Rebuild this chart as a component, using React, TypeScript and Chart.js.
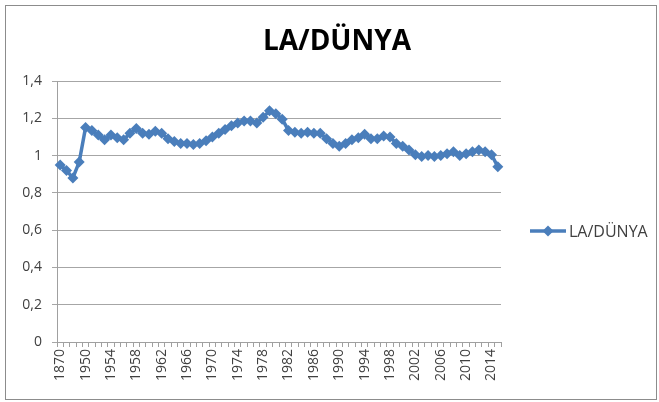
import React, { useEffect, useRef } from "react";
import { Chart, registerables } from "chart.js";

Chart.register(...registerables);

const TITLE = "LA/DÜNYA";
const SERIES_NAME = "LA/DÜNYA";

const earlyYears = ["1870", "1890", "1913", "1929"];
const earlyValues = [0.95, 0.92, 0.88, 0.965];

const postwarYears: string[] = [];
for (let y = 1950; y <= 2015; y++) postwarYears.push(String(y));

const postwarValues = [
  1.15, 1.135, 1.11, 1.085, 1.11, 1.095, 1.085, 1.12, 1.145, 1.12, // 1950-1959
  1.115, 1.13, 1.12, 1.09, 1.075, 1.065, 1.065, 1.06, 1.065, 1.08, // 1960-1969
  1.1, 1.12, 1.14, 1.16, 1.175, 1.185, 1.185, 1.175, 1.205, 1.24, // 1970-1979
  1.225, 1.195, 1.135, 1.125, 1.12, 1.125, 1.12, 1.12, 1.09, 1.065, // 1980-1989
  1.05, 1.065, 1.085, 1.095, 1.115, 1.09, 1.09, 1.105, 1.1, 1.065, // 1990-1999
  1.05, 1.03, 1.005, 0.995, 1.0, 0.995, 1.0, 1.01, 1.02, 1.0, // 2000-2009
  1.01, 1.02, 1.03, 1.02, 1.005, 0.94, // 2010-2015
];

const categories = [...earlyYears, ...postwarYears];
const values = [...earlyValues, ...postwarValues];

const yTickValues = [0, 0.2, 0.4, 0.6, 0.8, 1, 1.2, 1.4];

const LINE_COLOR = "#4a7ebb";
const FONT = "'Open Sans', 'Liberation Sans', sans-serif";

export default function App() {
  const ref = useRef<HTMLCanvasElement | null>(null);

  useEffect(() => {
    if (!ref.current) return;
    const decorPlugin = {
      id: "decor",
      afterDraw(chart: any) {
        const ctx = chart.ctx;
        ctx.save();
        // title
        ctx.fillStyle = "#000000";
        ctx.font = `bold 28px ${FONT}`;
        ctx.textAlign = "center";
        ctx.textBaseline = "middle";
        ctx.fillText(TITLE, 337, 42);
        // legend
        const y = 231;
        ctx.strokeStyle = LINE_COLOR;
        ctx.lineWidth = 3.5;
        ctx.beginPath();
        ctx.moveTo(530, y);
        ctx.lineTo(566, y);
        ctx.stroke();
        ctx.fillStyle = LINE_COLOR;
        ctx.beginPath();
        ctx.moveTo(548, y - 5.5);
        ctx.lineTo(553.5, y);
        ctx.lineTo(548, y + 5.5);
        ctx.lineTo(542.5, y);
        ctx.closePath();
        ctx.fill();
        ctx.fillStyle = "#404040";
        ctx.font = `16px ${FONT}`;
        ctx.textBaseline = "middle";
        ctx.textAlign = "left";
        ctx.fillText(SERIES_NAME, 569, y + 1);
        ctx.restore();
      },
    };

    const chart = new Chart(ref.current, {
      type: "line",
      data: {
        labels: categories,
        datasets: [
          {
            label: SERIES_NAME,
            data: values,
            borderColor: LINE_COLOR,
            backgroundColor: LINE_COLOR,
            borderWidth: 3.5,
            pointStyle: "rectRot",
            pointRadius: 5.5,
            pointBorderWidth: 0,
            pointBackgroundColor: LINE_COLOR,
            tension: 0,
          },
        ],
      },
      options: {
        responsive: false,
        animation: false,
        layout: { padding: { left: 0, right: 158, top: 81, bottom: 0 } },
        plugins: {
          legend: { display: false },
          tooltip: { enabled: false },
          title: { display: false },
        },
        scales: {
          x: {
            offset: true,
            grid: {
              display: true,
              offset: true,
              drawOnChartArea: false,
              drawTicks: true,
              tickLength: 5,
              color: "#a0a0a0",
            },
            border: { display: true, color: "#a0a0a0", width: 1 },
            ticks: {
              autoSkip: false,
              maxRotation: 90,
              minRotation: 90,
              padding: 2,
              color: "#404040",
              font: { family: FONT, size: 14 },
              callback: (_v: any, i: number) => (i % 4 === 0 ? categories[i] : ""),
            },
            afterFit: (scale: any) => {
              scale.height = 60;
            },
          },
          y: {
            min: 0,
            max: 1.4,
            afterBuildTicks: (scale: any) => {
              scale.ticks = yTickValues.map((v) => ({ value: v }));
            },
            grid: {
              color: "#a6a6a6",
              lineWidth: 1,
              drawTicks: true,
              tickLength: 5,
            },
            border: { display: true, color: "#a0a0a0", width: 1 },
            ticks: {
              padding: 10,
              color: "#404040",
              font: { family: FONT, size: 14 },
              callback: (v: any) => {
                const n = Math.round(Number(v) * 10) / 10;
                if (n === 0) return "0";
                if (n === 1) return "1";
                return n.toFixed(1).replace(".", ",");
              },
            },
            afterFit: (scale: any) => {
              scale.width = 57;
            },
          },
        },
      },
      plugins: [decorPlugin],
    });
    return () => chart.destroy();
  }, []);

  return (
    <div style={{ position: "fixed", left: 0, top: 0, width: 659, height: 402, background: "#ffffff" }}>
      <canvas ref={ref} width={659} height={402} style={{ display: "block", position: "absolute", left: 0, top: 0 }} />
      <div
        style={{
          position: "absolute",
          left: 5,
          top: 5,
          width: 650,
          height: 393,
          border: "1px solid #8c8c8c",
          pointerEvents: "none",
        }}
      />
    </div>
  );
}
